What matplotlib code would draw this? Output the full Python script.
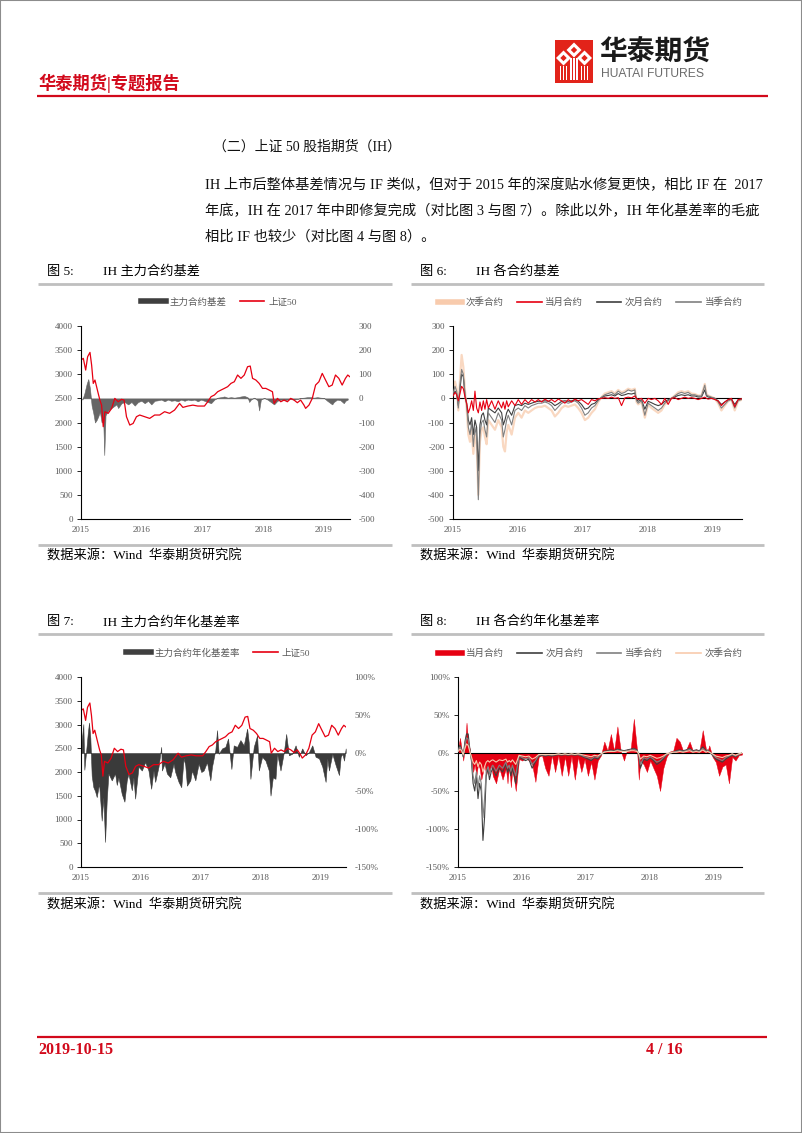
import matplotlib
matplotlib.use("Agg")
import matplotlib.pyplot as plt
from matplotlib.lines import Line2D
from matplotlib.patches import Rectangle, Polygon
import numpy as np

# ---------------- data ----------------
years = [2015, 2016, 2017, 2018, 2019]
year_labels = ["2015", "2016", "2017", "2018", "2019"]

# 上证50 index (charts 5 and 7)
idx_t = [2015.000, 2015.038, 2015.077, 2015.109, 2015.148, 2015.175, 2015.202, 2015.230, 2015.257, 2015.284,
         2015.311, 2015.339, 2015.366, 2015.393, 2015.448, 2015.503, 2015.557, 2015.612, 2015.667, 2015.710,
         2015.749, 2015.803, 2015.858, 2015.913, 2015.967, 2016.049, 2016.131, 2016.213, 2016.295, 2016.377,
         2016.459, 2016.541, 2016.623, 2016.678, 2016.760, 2016.842, 2016.923, 2017.033, 2017.087, 2017.142,
         2017.197, 2017.251, 2017.306, 2017.361, 2017.415, 2017.470, 2017.525, 2017.579, 2017.634, 2017.689,
         2017.743, 2017.787, 2017.825, 2017.880, 2017.934, 2017.989, 2018.044, 2018.098, 2018.153, 2018.180,
         2018.235, 2018.290, 2018.344, 2018.399, 2018.454, 2018.508, 2018.563, 2018.617, 2018.672, 2018.699,
         2018.754, 2018.809, 2018.863, 2018.918, 2018.973, 2019.027, 2019.082, 2019.137, 2019.191, 2019.246,
         2019.301, 2019.355, 2019.393, 2019.426]
idx_v = [3294, 3330, 3087, 3363, 3453, 3190, 2810, 2880, 2740, 2600,
         2465, 2360, 1913, 2224, 2190, 2290, 2500, 2430, 2480, 2465,
         2120, 1947, 1980, 2120, 2155, 2120, 2085, 2155, 2155, 2224,
         2190, 2258, 2396, 2313, 2341, 2360, 2341, 2341, 2430, 2535,
         2570, 2638, 2673, 2707, 2742, 2811, 2845, 2984, 2915, 2984,
         3156, 3170, 2915, 2880, 2811, 2707, 2707, 2673, 2638, 2396,
         2500, 2430, 2465, 2430, 2500, 2465, 2410, 2465, 2360, 2293,
         2360, 2500, 2776, 2845, 3018, 2880, 2742, 2776, 2984, 2915,
         2776, 2915, 2984, 2950]

# 主力合约基差 (chart 5, right axis)
basis_t = [2015.022, 2015.055, 2015.093, 2015.120, 2015.148, 2015.175, 2015.202, 2015.230, 2015.257, 2015.284,
           2015.311, 2015.339, 2015.366, 2015.383, 2015.404, 2015.448, 2015.503, 2015.557, 2015.585, 2015.612,
           2015.667, 2015.721, 2015.776, 2015.831, 2015.885, 2015.940, 2015.995, 2016.049, 2016.104, 2016.158,
           2016.213, 2016.268, 2016.322, 2016.377, 2016.432, 2016.486, 2016.541, 2016.596, 2016.650, 2016.705,
           2016.760, 2016.814, 2016.869, 2016.923, 2016.978, 2017.033, 2017.087, 2017.142, 2017.197, 2017.251,
           2017.306, 2017.361, 2017.415, 2017.470, 2017.525, 2017.579, 2017.634, 2017.689, 2017.743, 2017.770,
           2017.798, 2017.852, 2017.907, 2017.934, 2017.962, 2018.016, 2018.071, 2018.126, 2018.180, 2018.235,
           2018.290, 2018.344, 2018.399, 2018.454, 2018.508, 2018.563, 2018.617, 2018.672, 2018.727, 2018.781,
           2018.836, 2018.891, 2018.945, 2019.000, 2019.055, 2019.109, 2019.137, 2019.164, 2019.219, 2019.273,
           2019.328, 2019.355, 2019.393]
basis_v = [-5, 20, 60, 80, 40, -30, -60, -100, -90, -75,
           -55, -100, -90, -235, -70, -50, -40, -30, -25, -40,
           -20, -15, -25, -15, -30, -15, -10, -20, -10, -25,
           -10, -8, -5, -12, -5, -10, -8, -12, -5, -10,
           -5, -8, -5, -12, -5, -10, -15, -20, -5, 3,
           5, 8, 3, 5, 3, 5, 8, 10, 5, -15,
           -5, 3, -8, -50, -5, 2, -5, -15, -25, -10,
           -5, -8, -5, -3, -5, -3, 2, 3, 5, 5,
           3, 5, 3, 2, -10, -20, -25, -15, -5, -8,
           -20, -10, -5]

# 主力合约年化基差率 (chart 7, right axis, %)
ann_t = [2015.011, 2015.039, 2015.056, 2015.095, 2015.112, 2015.134, 2015.156, 2015.179, 2015.207, 2015.235,
         2015.263, 2015.302, 2015.346, 2015.374, 2015.402, 2015.430, 2015.458, 2015.514, 2015.570, 2015.598,
         2015.626, 2015.682, 2015.726, 2015.765, 2015.793, 2015.849, 2015.877, 2015.905, 2015.961, 2016.017,
         2016.073, 2016.128, 2016.173, 2016.212, 2016.240, 2016.296, 2016.341, 2016.352, 2016.397, 2016.436,
         2016.492, 2016.547, 2016.575, 2016.631, 2016.676, 2016.715, 2016.743, 2016.771, 2016.827, 2016.855,
         2016.911, 2016.966, 2017.011, 2017.050, 2017.106, 2017.162, 2017.190, 2017.246, 2017.274, 2017.302,
         2017.358, 2017.413, 2017.458, 2017.514, 2017.553, 2017.609, 2017.665, 2017.721, 2017.777, 2017.804,
         2017.832, 2017.888, 2017.944, 2017.972, 2018.028, 2018.084, 2018.140, 2018.168, 2018.207, 2018.251,
         2018.279, 2018.335, 2018.391, 2018.430, 2018.475, 2018.531, 2018.587, 2018.642, 2018.698, 2018.754,
         2018.810, 2018.866, 2018.922, 2018.978, 2019.034, 2019.089, 2019.117, 2019.145, 2019.201, 2019.257,
         2019.313, 2019.341, 2019.369, 2019.397, 2019.425]
ann_v = [15, 38, -22, 10, 25, 40, 20, -30, -45, -50,
         -58, -40, -89, -58, -117, -62, -27, -36, -27, -42,
         -32, -54, -64, -36, -27, -49, -32, -60, -18, -23,
         -12, -23, -47, -23, -38, -18, 8, -23, -14, -27,
         -32, -14, -25, -38, -45, -7, -16, -43, -36, -23,
         -36, -14, -25, -23, -12, -36, -18, 4, 30, -1,
         6, 8, 19, -21, 10, 8, 17, 10, 32, 14,
         -34, 8, 23, -23, -5, -10, -23, -56, -32, -34,
         -1, -23, 1, 25, -3, -1, 10, -5, 6, -3,
         1, 10, -5, -7, -18, -38, -7, -23, -1, -16,
         -29, -5, -1, -10, 6]

# shared date points for charts 6 and 8
grid_t = [2015.000, 2015.031, 2015.056, 2015.082, 2015.108, 2015.133, 2015.159, 2015.185, 2015.210, 2015.236,
          2015.262, 2015.287, 2015.313, 2015.338, 2015.364, 2015.390, 2015.415, 2015.441, 2015.467, 2015.492,
          2015.518, 2015.544,
          2015.595, 2015.646, 2015.697, 2015.749, 2015.774, 2015.800, 2015.826, 2015.851,
          2015.903, 2015.954, 2016.005, 2016.056, 2016.108, 2016.159, 2016.210, 2016.262, 2016.313, 2016.364,
          2016.415, 2016.467, 2016.518, 2016.569, 2016.621, 2016.672, 2016.723, 2016.774, 2016.826, 2016.877,
          2016.928, 2016.979, 2017.031, 2017.082, 2017.133, 2017.185, 2017.236, 2017.287, 2017.338, 2017.390,
          2017.441, 2017.492, 2017.544, 2017.595, 2017.646, 2017.697, 2017.749, 2017.800,
          2017.826,
          2017.851, 2017.903, 2017.954, 2018.005, 2018.056, 2018.108, 2018.159, 2018.210, 2018.262, 2018.313,
          2018.364, 2018.415, 2018.467, 2018.518, 2018.569, 2018.621, 2018.672, 2018.723, 2018.774, 2018.826,
          2018.877,
          2018.903,
          2018.928, 2018.979, 2019.031, 2019.082, 2019.133, 2019.185, 2019.236, 2019.287, 2019.338, 2019.390,
          2019.441]

# chart 6: 各合约基差 (points)
b_next_q = [30, 70, 40, -50, 80, 180, 130, 30, -40, -150, -180, -130, -230, -150, -190, -400, -180, -130, -120, -160, -190, -90,
            -110, -130, -90, -120, -200, -220, -140, -110,
            -150, -80, -60, -80, -50, -60, -50, -40, -35, -35, -30, -40, -50, -75, -60, -40, -30, -35, -30, -25,
            -40, -60, -90, -80, -60, -45, -15, 5, 20, 25, 30, 20, 35, 25, 30, 40, 35, 40,
            -15,
            -25, -15, -80, -25, -40, -50, -60, -50, -25, -15, 0, 12, 25, 30, 25, 30, 20, 18, 12, 12, 60,
            18,
            12, 6, 0, -20, -50, -30, -12, -6, -50, -12, -6]
b_cur_m = [10, 25, 15, -10, 20, 50, 40, 5, -20, -60, -40, -10, -50, 30, -40, -60, -15, -50, -10, -45, -5, -40,
           -10, -45, -10, -40, -15, -45, -10, -35,
           -10, -30, -5, -25, -5, -20, -5, -15, -5, -15, -3, -12, -5, -15, -3, -10, -20, -5, -15, -3,
           -10, -5, -15, -25, -5, -10, -2, 0, 3, 0, 5, 0, 3, -30, 2, 5, 2, 10,
           0,
           -5, 0, -20, 0, -5, 0, -10, -25, 0, -25, 0, 3, -5, 0, 5, 0, 3, 0, -5, 0, 5,
           0,
           -3, 0, -5, -10, -30, -15, -5, 0, -35, -5, -2]
b_next_m = [10, 30, 20, -30, 40, 100, 90, 10, -20, -90, -110, -80, -150, -90, -120, -300, -110, -70, -60, -90, -110, -40,
            -50, -60, -40, -60, -110, -90, -60, -45,
            -70, -30, -25, -30, -20, -25, -20, -15, -12, -12, -10, -12, -18, -30, -22, -12, -10, -12, -10, -6,
            -12, -25, -45, -40, -25, -20, -5, 3, 10, 12, 15, 10, 20, 12, 15, 20, 18, 22,
            -5,
            -12, -6, -45, -12, -18, -25, -30, -25, -12, -6, 0, 6, 12, 15, 12, 15, 10, 10, 6, 6, 35,
            10,
            6, 3, 0, -10, -25, -15, -6, -3, -25, -6, -3]
b_cur_q = [20, 50, 30, -40, 60, 120, 100, 20, -30, -120, -150, -100, -200, -120, -160, -420, -150, -100, -90, -130, -160, -60,
           -80, -100, -60, -90, -160, -130, -90, -70,
           -110, -50, -40, -50, -30, -40, -30, -25, -20, -20, -15, -20, -30, -50, -35, -20, -15, -20, -15, -10,
           -20, -40, -70, -60, -40, -30, -10, 5, 15, 20, 25, 15, 30, 20, 25, 35, 30, 35,
           -10,
           -20, -10, -70, -20, -30, -40, -50, -40, -20, -10, 0, 10, 20, 25, 20, 25, 15, 15, 10, 10, 55,
           15,
           10, 5, 0, -15, -40, -25, -10, -5, -40, -10, -5]

# chart 8: 各合约年化基差率 (%)
r_cur_m = [5, 20, 5, -10, 10, 40, 15, 5, -10, -25, -15, -30, -15, -20, -35, -25, -15, -30, -15, -25, -15, -30,
           -40, -20, -35, -20, -40, -15, -45, -20,
           -50, -8, -10, -6, -10, -15, -38, -5, -3, -20, -30, -3, -25, -3, -30, -5, -30, -4, -35, -5,
           -25, -8, -30, -12, -35, -10, -3, 15, 3, 25, 3, 35, 3, -10, 5, 3, 45, 3,
           -35,
           -10, -15, -25, -10, -20, -30, -50, -20, -5, 2, 3, 20, 15, 3, 5, 15, 3, 5, 3, 30, 5,
           3,
           10, -5, -12, -30, -18, -15, -40, -5, -10, -3, -2]
r_next_m = [5, 10, 5, -5, 15, 25, 25, 5, -10, -40, -50, -30, -60, -40, -50, -115, -85, -30, -20, -35, -25, -20,
            -30, -20, -25, -15, -25, -20, -30, -20,
            -40, -5, -8, -10, -8, -20, -12, -4, -3, -4, -3, -4, -3, -2, -3, -2, -3, -2, -3, -2,
            -4, -6, -8, -10, -6, -8, -2, 2, 3, 4, 3, 5, 4, 3, 4, 5, 6, 4,
            -3,
            -20, -8, -10, -6, -10, -15, -12, -8, -2, 0, 1, 3, 4, 3, 4, 6, 3, 4, 3, 8, 3,
            4,
            2, -3, -8, -10, -12, -8, -5, -3, -5, -2, 0]
r_cur_q = [3, 8, 4, -4, 10, 20, 18, 3, -8, -30, -40, -25, -45, -30, -40, -85, -60, -25, -18, -28, -20, -16,
           -24, -16, -20, -12, -20, -16, -24, -16,
           -30, -4, -6, -8, -6, -15, -10, -3, -2, -3, -2, -3, -2, -2, -2, -2, -2, -2, -2, -2,
           -3, -5, -6, -8, -5, -6, -2, 2, 2, 3, 2, 4, 3, 2, 3, 4, 5, 3,
           -2,
           -15, -6, -8, -5, -8, -12, -10, -6, -2, 0, 1, 2, 3, 2, 3, 5, 2, 3, 2, 6, 2,
           3,
           2, -2, -6, -8, -10, -6, -4, -2, -4, -2, 0]
r_next_q = [2, 5, 3, -2, 6, 12, 10, 2, -5, -12, -15, -10, -18, -12, -15, -25, -18, -12, -10, -12, -10, -9,
            -12, -9, -10, -8, -12, -10, -12, -9,
            -15, -3, -4, -5, -4, -8, -6, -2, -2, -2, -2, -2, -2, -1, -2, -1, -2, -1, -2, -1,
            -2, -3, -4, -5, -3, -4, -1, 1, 2, 2, 2, 3, 2, 2, 2, 3, 3, 2,
            -1,
            -8, -4, -5, -3, -5, -7, -6, -4, -1, 0, 1, 1, 2, 1, 2, 3, 1, 2, 1, 4, 1,
            2,
            1, -1, -4, -5, -6, -4, -3, -1, -3, -1, 0]

para_lines = ["IH 上市后整体基差情况与 IF 类似，但对于 2015 年的深度贴水修复更快，相比 IF 在  2017",
              "年底，IH 在 2017 年中即修复完成（对比图 3 与图 7）。除此以外，IH 年化基差率的毛疵",
              "相比 IF 也较少（对比图 4 与图 8）。"]

# ---------------- page ----------------
W, H = 802, 1133
RED = "#e60012"
PAGE_RED = "#d2091b"
DARK = "#3f3f3f"
GREY = "#808080"
PEACH = "#f8cbad"
TXT = "#595959"
RULE = "#bfbfbf"

plt.rcParams["font.family"] = ["Liberation Serif", "Noto Sans CJK SC"]
plt.rcParams["axes.unicode_minus"] = False

fig = plt.figure(figsize=(W / 100, H / 100), dpi=100)


def fx(x):
    return x / W


def fy(y):
    return 1 - y / H


def text(x, y, s, **kw):
    fig.text(fx(x), fy(y), s, va="center", **kw)


def hline(x0, x1, y, color, lw):
    fig.add_artist(Line2D([fx(x0), fx(x1)], [fy(y), fy(y)], transform=fig.transFigure,
                          color=color, lw=lw, solid_capstyle="butt"))


def poly(pts, color):
    fig.add_artist(Polygon([(fx(x), fy(y)) for x, y in pts], closed=True,
                           transform=fig.transFigure, color=color, lw=0))


def add_ax(l, t, r, b):
    return fig.add_axes([fx(l), fy(b), (r - l) / W, (b - t) / H])


def base_style(ax, xmax):
    ax.set_xlim(2015, xmax)
    ax.set_xticks(years)
    ax.set_xticklabels(year_labels)
    for s in ("top", "right"):
        ax.spines[s].set_visible(False)
    for s in ("left", "bottom"):
        ax.spines[s].set_linewidth(0.8)
        ax.spines[s].set_color("black")
    ax.tick_params(axis="y", direction="out", length=3, width=0.6, labelsize=6.5, labelcolor=TXT, pad=3)
    ax.tick_params(axis="x", length=0, labelsize=6.5, labelcolor=TXT, pad=5)


def right_style(axr):
    for s in axr.spines.values():
        s.set_visible(False)
    axr.tick_params(axis="y", length=0, labelsize=6.5, labelcolor=TXT, pad=6)


def legend(ax, handles, labels, cx, cy):
    ax.legend(handles, labels, loc="center", bbox_to_anchor=(fx(cx), fy(cy)),
              bbox_transform=fig.transFigure, ncol=len(labels), frameon=False,
              fontsize=6.8, handlelength=2.6, handletextpad=0.4, columnspacing=1.4,
              labelcolor=TXT, borderpad=0, borderaxespad=0)


def frame(x0, x1, ytitle, ytop, ybot, ysrc, num, title):
    text(x0 + 9, ytitle, num, fontsize=9.5)
    text(x0 + 65, ytitle, title, fontsize=9.5)
    hline(x0, x1, ytop, RULE, 2.0)
    hline(x0, x1, ybot, RULE, 2.0)
    text(x0 + 9, ysrc, "数据来源：Wind  华泰期货研究院", fontsize=9.5)


# page border
fig.add_artist(Rectangle((0, 0), 1, 1, transform=fig.transFigure, fill=False, edgecolor="#8c8c8c", lw=1.5))

# header
text(38, 83, "华泰期货|专题报告", fontsize=12.4, color=PAGE_RED, fontweight="bold")
hline(37, 768, 96, PAGE_RED, 1.6)

# logo
fig.add_artist(Rectangle((fx(555), fy(83)), 38 / W, 43 / H, transform=fig.transFigure, color="#e2231a", lw=0))
for cx, cy in [(563.5, 58), (574, 50), (584.5, 58)]:
    poly([(cx, cy - 7.5), (cx + 7.5, cy), (cx, cy + 7.5), (cx - 7.5, cy)], "white")
    poly([(cx, cy - 3.2), (cx + 3.2, cy), (cx, cy + 3.2), (cx - 3.2, cy)], "#e2231a")
    for dx in (-3, 0, 3):
        fig.add_artist(Rectangle((fx(cx + dx - 0.7), fy(80)), 1.4 / W, (80 - cy - 8.5) / H,
                                 transform=fig.transFigure, color="white", lw=0))
text(599, 52, "华泰期货", fontsize=20, fontweight="bold", color="#1a1a1a", family="Noto Sans CJK SC")
text(601, 74, "HUATAI FUTURES", fontsize=8.7, color="#6b6b6b", family="Liberation Sans")

# section text
text(213, 147, "（二）上证 50 股指期货（IH）", fontsize=10, color="#111111")
for i, line in enumerate(para_lines):
    text(205, 185 + 26 * i, line, fontsize=10.25, color="#111111")

# ---------------- chart 5 ----------------
frame(38, 392, 272, 284, 545, 556, "图 5:", "IH 主力合约基差")
ax5 = add_ax(81, 326, 350, 519)
base_style(ax5, 2019.43)
ax5.set_ylim(0, 4000)
ax5.set_yticks(range(0, 4001, 500))
ax5r = ax5.twinx()
right_style(ax5r)
ax5r.set_ylim(-500, 300)
ax5r.set_yticks(range(-500, 301, 100))
ax5r.set_yticklabels([str(v) for v in range(-500, 301, 100)])
ax5r.fill_between(basis_t, 0, basis_v, color="#666666", lw=0.4)
ax5.set_zorder(ax5r.get_zorder() + 1)
ax5.patch.set_visible(False)
ax5.plot(idx_t, idx_v, color=RED, lw=0.9)
legend(ax5, [Line2D([], [], color=DARK, lw=4), Line2D([], [], color=RED, lw=1.2)],
       ["主力合约基差", "上证50"], 219, 302)

# ---------------- chart 6 ----------------
frame(411, 764, 272, 284, 545, 556, "图 6:", "IH 各合约基差")
ax6 = add_ax(453, 326, 742, 519)
base_style(ax6, 2019.45)
ax6.set_ylim(-500, 300)
ax6.set_yticks(range(-500, 301, 100))
ax6.set_yticklabels([str(v) for v in range(-500, 301, 100)])
ax6.axhline(0, color="black", lw=0.8, zorder=1)
ax6.plot(grid_t, b_next_q, color=PEACH, lw=1.6, alpha=0.75, zorder=2)
ax6.plot(grid_t, b_next_m, color=DARK, lw=0.8, zorder=3)
ax6.plot(grid_t, b_cur_q, color=GREY, lw=0.8, zorder=4)
ax6.plot(grid_t, b_cur_m, color=RED, lw=0.8, zorder=5)
legend(ax6, [Line2D([], [], color=PEACH, lw=4), Line2D([], [], color=RED, lw=1.2),
             Line2D([], [], color=DARK, lw=1.2), Line2D([], [], color=GREY, lw=1.2)],
       ["次季合约", "当月合约", "次月合约", "当季合约"], 590, 302)

# ---------------- chart 7 ----------------
frame(38, 392, 622, 634, 893, 905, "图 7:", "IH 主力合约年化基差率")
ax7 = add_ax(81, 677, 346, 867)
base_style(ax7, 2019.43)
ax7.set_ylim(0, 4000)
ax7.set_yticks(range(0, 4001, 500))
ax7r = ax7.twinx()
right_style(ax7r)
ax7r.set_ylim(-150, 100)
ax7r.set_yticks(range(-150, 101, 50))
ax7r.set_yticklabels([f"{v}%" for v in range(-150, 101, 50)])
ax7r.fill_between(ann_t, 0, ann_v, color="#3a3a3a", lw=0.4)
ax7.set_zorder(ax7r.get_zorder() + 1)
ax7.patch.set_visible(False)
ax7.plot(idx_t, idx_v, color=RED, lw=0.9)
legend(ax7, [Line2D([], [], color=DARK, lw=4), Line2D([], [], color=RED, lw=1.2)],
       ["主力合约年化基差率", "上证50"], 218, 653)

# ---------------- chart 8 ----------------
frame(411, 764, 622, 634, 893, 905, "图 8:", "IH 各合约年化基差率")
ax8 = add_ax(458, 677, 742, 867)
base_style(ax8, 2019.44)
ax8.set_ylim(-150, 100)
ax8.set_yticks(range(-150, 101, 50))
ax8.set_yticklabels([f"{v}%" for v in range(-150, 101, 50)])
ax8.fill_between(grid_t, 0, r_cur_m, color=RED, lw=0.3, zorder=2)
ax8.axhline(0, color="black", lw=0.8, zorder=3)
ax8.plot(grid_t, r_next_m, color=DARK, lw=0.8, zorder=4)
ax8.plot(grid_t, r_cur_q, color=GREY, lw=0.8, zorder=5)
ax8.plot(grid_t, r_next_q, color=PEACH, lw=0.8, zorder=6)
legend(ax8, [Line2D([], [], color=RED, lw=4), Line2D([], [], color=DARK, lw=1.2),
             Line2D([], [], color=GREY, lw=1.2), Line2D([], [], color=PEACH, lw=1.2)],
       ["当月合约", "次月合约", "当季合约", "次季合约"], 590, 653)

# footer
hline(37, 767, 1037, PAGE_RED, 1.6)
text(38, 1050, "2019-10-15", fontsize=11.5, color=PAGE_RED, fontweight="bold")
text(646, 1050, "4 / 16", fontsize=11.5, color=PAGE_RED, fontweight="bold")

fig.savefig("out.png", dpi=100)
